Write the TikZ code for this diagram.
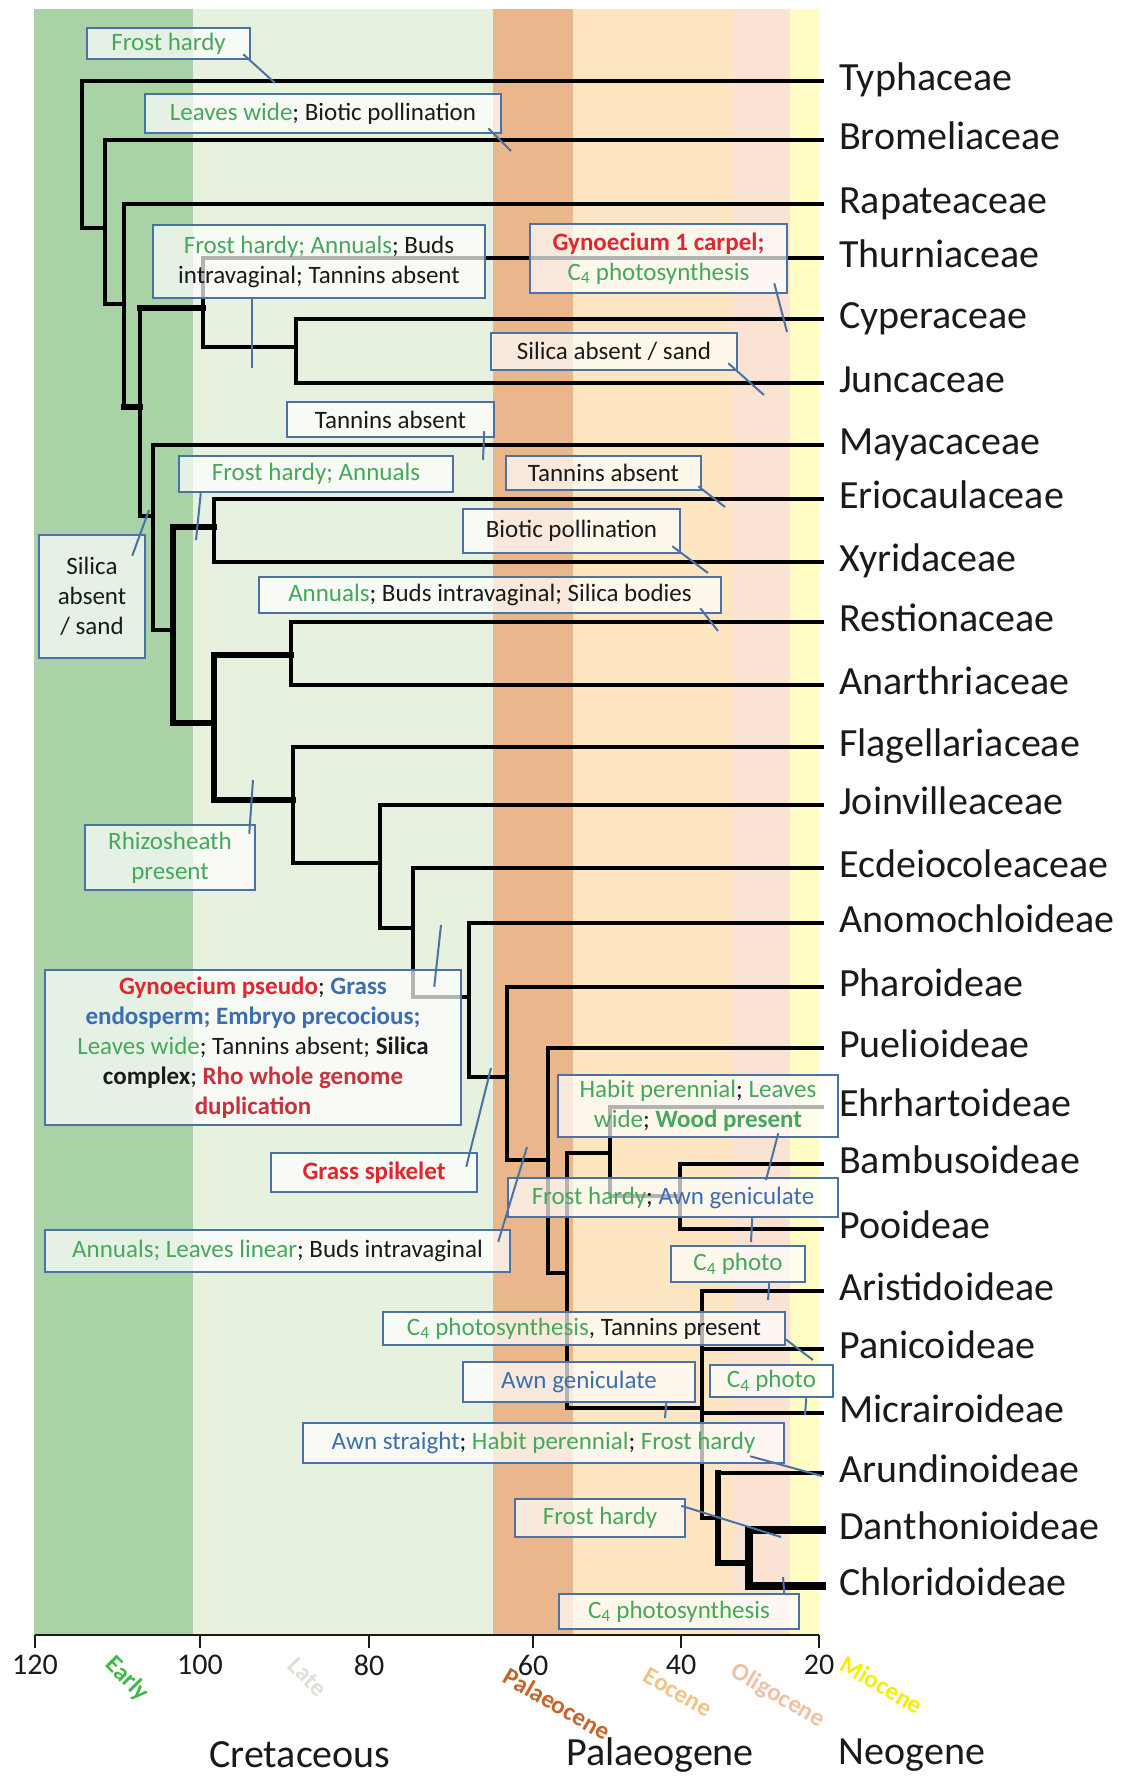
\documentclass[tikz,border=0pt]{standalone}
\usepackage{fontspec}
\setmainfont{Carlito}
\definecolor{early}{HTML}{A9D3A6}
\definecolor{late}{HTML}{E6F1DF}
\definecolor{palaeo}{HTML}{EAB68C}
\definecolor{eocene}{HTML}{FDE6C1}
\definecolor{oligo}{HTML}{FBE3D4}
\definecolor{mio}{HTML}{FFFCC4}
\definecolor{boxblue}{HTML}{4A72A4}
\definecolor{tgreen}{HTML}{45A85A}
\definecolor{tblue}{HTML}{3C6EB0}
\definecolor{tred}{HTML}{E0262E}
\definecolor{dred}{HTML}{C8323C}
\definecolor{ink}{HTML}{1A1A1A}
\definecolor{earlytext}{HTML}{42B649}
\definecolor{latetext}{HTML}{DCE2D8}
\definecolor{palaeotext}{HTML}{C8642A}
\definecolor{eocenetext}{HTML}{F3C386}
\definecolor{oligotext}{HTML}{EFC1A6}
\definecolor{miotext}{HTML}{F2EF00}
\newcommand{\cgreen}[1]{\textcolor{tgreen}{#1}}
\newcommand{\cblue}[1]{\textcolor{tblue}{#1}}
\newcommand{\cred}[1]{\textcolor{tred}{#1}}
\newcommand{\cdred}[1]{\textcolor{dred}{#1}}
\newcommand{\cfour}{C\textsubscript{4}}
\tikzset{
	branch/.style={line width=4.5pt,line cap=rect},
	thickbranch/.style={line width=6.5pt,line cap=rect},
	heavybranch/.style={line width=8.5pt,line cap=rect},
	taxon/.style={anchor=west,inner xsep=17pt,inner ysep=0pt,text height=26pt,text depth=8pt,text=ink,font=\fontsize{40}{48}\selectfont},
	note/.style={draw=boxblue,line width=2.5pt,fill=white,fill opacity=0.7,text opacity=1,inner sep=2pt,align=center,text=ink,font=\fontsize{25}{30}\selectfont},
	leader/.style={draw=boxblue,line width=2pt},
	epoch/.style={font=\bfseries\fontsize{25}{30}\selectfont},
	period/.style={text=ink,font=\fontsize{40}{48}\selectfont},
	ticklabel/.style={text=ink,font=\fontsize{30}{36}\selectfont}
}
\begin{document}
\begin{tikzpicture}[x=1pt,y=-1pt]
		\useasboundingbox (0,0) rectangle (1129,1777);
		\fill[early] (34,9) rectangle (193,1635);
		\fill[late] (193,9) rectangle (493,1635);
		\fill[palaeo] (493,9) rectangle (573,1635);
		\fill[eocene] (573,9) rectangle (733,1635);
		\fill[oligo] (733,9) rectangle (790,1635);
		\fill[mio] (790,9) rectangle (819,1635);
		\draw[line width=2.5pt,ink] (35,1635) -- (819,1635);
		\foreach \x/\lab in {35/120,200/100,369/80,533/60,681/40,819/20}{
			\draw[line width=2pt,ink] (\x,1635) -- (\x,1648);
			\node[ticklabel] (tick\lab) at (\x,1665) {\lab};
		}
		\node[epoch,text=earlytext,rotate=-45] (early) at (127,1679) {Early};
		\node[epoch,text=latetext,rotate=-45] (late) at (308,1677) {Late};
		\node[epoch,text=palaeotext,rotate=-30] (palaeocene) at (557,1704) {Palaeocene};
		\node[epoch,text=eocenetext,rotate=-30] (eocene) at (678,1692) {Eocene};
		\node[epoch,text=oligotext,rotate=-30] (oligocene) at (778,1696) {Oligocene};
		\node[epoch,text=miotext,rotate=-30] (miocene) at (882,1685) {Miocene};
		\node[period] (cretaceous) at (300,1755) {Cretaceous};
		\node[period] (palaeogene) at (660,1755) {Palaeogene};
		\node[period] (neogene) at (912,1755) {Neogene};
		\foreach \name/\ty in {Typhaceae/81,Bromeliaceae/140,Rapateaceae/204,Thurniaceae/258,Cyperaceae/319,Juncaceae/383,Mayacaceae/445,Eriocaulaceae/499,Xyridaceae/562,Restionaceae/622,Anarthriaceae/685,Flagellariaceae/747,Joinvilleaceae/805,Ecdeiocoleaceae/868,Anomochloideae/923,Pharoideae/987,Puelioideae/1048,Ehrhartoideae/1107,Bambusoideae/1164,Pooideae/1229,Aristidoideae/1291,Panicoideae/1349,Micrairoideae/1413,Arundinoideae/1473,Danthonioideae/1530,Chloridoideae/1586}
			\node[taxon] (\name) at (822,\ty) {\name};
		\foreach \n/\x/\y in {A/82/155,B/105/228,C/124/304,D/140/407,E/203/308,F/296/347,G/153/516,H/173/630,I/214/527,J/214/723,K/291/655,L/293/800,M/380/863,N/413/928,O/469/997,P/507/1077,Q/548/1160,R/610/1153,S/567/1273,W/680/1196,T/702/1408,U/718/1518,V/749/1563}
			\coordinate (n\n) at (\x,\y);
		\draw[branch] (Typhaceae.west) -| (nA) |- (nB);
		\draw[branch] (Bromeliaceae.west) -| (nB) |- (nC);
		\draw[branch] (Rapateaceae.west) -| (nC) |- (nD);
		\draw[thickbranch] (nC |- nD) -- (nD);
		\draw[branch] (nE) -| (nD) |- (nG);
		\draw[thickbranch] (nE) -- (nD |- nE);
		\draw[branch] (Thurniaceae.west) -| (nE) |- (nF);
		\draw[branch] (Cyperaceae.west) -| (nF) |- (Juncaceae.west);
		\draw[branch] (Mayacaceae.west) -| (nG) |- (nH);
		\draw[thickbranch] (nI) -| (nH) |- (nJ);
		\draw[branch] (Eriocaulaceae.west) -| (nI) |- (Xyridaceae.west);
		\draw[thickbranch] (nK) -| (nJ) |- (nL);
		\draw[branch] (Restionaceae.west) -| (nK) |- (Anarthriaceae.west);
		\draw[branch] (Flagellariaceae.west) -| (nL) |- (nM);
		\draw[branch] (Joinvilleaceae.west) -| (nM) |- (nN);
		\draw[branch] (Ecdeiocoleaceae.west) -| (nN) |- (nO);
		\draw[branch] (Anomochloideae.west) -| (nO) |- (nP);
		\draw[branch] (Pharoideae.west) -| (nP) |- (nQ);
		\draw[branch] (Puelioideae.west) -| (nQ) |- (nS);
		\draw[branch] (nR) -| (nS) |- (nT);
		\draw[branch] (Ehrhartoideae.west) -| (nR) |- (nW);
		\draw[branch] (Bambusoideae.west) -| (nW) |- (Pooideae.west);
		\draw[branch] (Aristidoideae.west) -| (nT) |- (nU);
		\draw[branch] (nT) |- (Panicoideae.west) (nT) |- (Micrairoideae.west);
		\draw[branch] (Arundinoideae.west) -- (nU |- Arundinoideae.west);
		\draw[thickbranch] (nU |- Arundinoideae.west) -- (nU) |- (nV);
		\draw[heavybranch] (Danthonioideae.west) -| (nV) |- (Chloridoideae.west);
		\node[note,minimum width=163pt,minimum height=31pt] (fh1) at (168.5,43.5) {\cgreen{Frost hardy}};
		\node[note,minimum width=356pt,minimum height=39pt] (lw) at (323,113.5) {\cgreen{Leaves wide}; Biotic pollination};
		\node[note,minimum width=332pt,minimum height=73pt] (fhab) at (319,261.5) {\cgreen{Frost hardy; Annuals}; Buds\\intravaginal; Tannins absent};
		\node[note,minimum width=257pt,minimum height=69pt] (gyn) at (658.5,258.5) {\textbf{\cred{Gynoecium 1 carpel;}}\\\cgreen{\cfour{} photosynthesis}};
		\node[note,minimum width=246pt,minimum height=37pt] (sas) at (614,351.5) {Silica absent / sand};
		\node[note,minimum width=207pt,minimum height=35pt] (ta1) at (390.5,419.5) {Tannins absent};
		\node[note,minimum width=274pt,minimum height=36pt] (fha) at (316,474) {\cgreen{Frost hardy; Annuals}};
		\node[note,minimum width=195pt,minimum height=34pt] (ta2) at (603.5,473) {Tannins absent};
		\node[note,minimum width=217pt,minimum height=44pt] (bp) at (571.5,531) {Biotic pollination};
		\node[note,minimum width=462pt,minimum height=36pt] (abs) at (490,595) {\cgreen{Annuals}; Buds intravaginal; Silica bodies};
		\node[note,minimum width=106pt,minimum height=123pt] (sas2) at (92,596.5) {Silica\\absent\\/ sand};
		\node[note,minimum width=170pt,minimum height=65pt] (rhz) at (170,857.5) {\cgreen{Rhizosheath}\\\cgreen{present}};
		\node[note,minimum width=416pt,minimum height=155pt] (gp) at (253,1047.5) {\textbf{\cred{Gynoecium pseudo}}; \textbf{\cblue{Grass}}\\\textbf{\cblue{endosperm; Embryo precocious;}}\\\cgreen{Leaves wide}; Tannins absent; \textbf{Silica}\\\textbf{complex}; \textbf{\cdred{Rho whole genome}}\\\textbf{\cdred{duplication}}};
		\node[note,minimum width=206pt,minimum height=39pt] (gs) at (374,1172.5) {\textbf{\cred{Grass spikelet}}};
		\node[note,minimum width=465pt,minimum height=42pt] (alb) at (277.5,1251) {\cgreen{Annuals; Leaves linear}; Buds intravaginal};
		\node[note,minimum width=280pt,minimum height=62pt] (hpw) at (698,1106) {\cgreen{Habit perennial}; \cgreen{Leaves}\\\cgreen{wide}; \textbf{\cgreen{Wood present}}};
		\node[note,minimum width=330pt,minimum height=39pt] (fhag) at (673,1197.5) {\cgreen{Frost hardy}; \cblue{Awn geniculate}};
		\node[note,minimum width=134pt,minimum height=36pt] (c4a) at (738,1264) {\cgreen{\cfour{} photo}};
		\node[note,minimum width=402pt,minimum height=33pt] (c4t) at (584,1328.5) {\cgreen{\cfour{} photosynthesis}, Tannins present};
		\node[note,minimum width=232pt,minimum height=40pt] (ag) at (579,1382) {\cblue{Awn geniculate}};
		\node[note,minimum width=123pt,minimum height=32pt] (c4b) at (771.5,1381) {\cgreen{\cfour{} photo}};
		\node[note,minimum width=481pt,minimum height=40pt] (ash) at (543.5,1443) {\cblue{Awn straight}; \cgreen{Habit perennial}; \cgreen{Frost hardy}};
		\node[note,minimum width=170pt,minimum height=38pt] (fh2) at (600,1518) {\cgreen{Frost hardy}};
		\node[note,minimum width=240pt,minimum height=35pt] (c4p) at (679,1611.5) {\cgreen{\cfour{} photosynthesis}};
		\coordinate (fh1-end) at (275,83);
		\coordinate (lw-end) at (511,151);
		\coordinate (fhab-end) at (252,368);
		\coordinate (gyn-end) at (787,332);
		\coordinate (sas-end) at (764,395);
		\coordinate (ta1-end) at (483,460);
		\coordinate (fha-end) at (196,540);
		\coordinate (ta2-end) at (725,507);
		\coordinate (bp-end) at (708,573);
		\coordinate (abs-end) at (718,631);
		\coordinate (sas2-end) at (149,510);
		\coordinate (rhz-end) at (253,780);
		\coordinate (gp-end) at (441,925);
		\coordinate (gs-end) at (491,1068);
		\coordinate (alb-end) at (527,1147);
		\coordinate (hpw-end) at (766,1180);
		\coordinate (fhag-end) at (751,1242);
		\coordinate (c4a-end) at (768,1300);
		\coordinate (c4t-end) at (813,1360);
		\coordinate (ag-end) at (665,1418);
		\coordinate (c4b-end) at (805,1415);
		\coordinate (ash-end) at (822,1476);
		\coordinate (fh2-end) at (781,1537);
		\coordinate (c4p-end) at (783,1577);
		\draw[leader] ([shift={(-8,-6)}]fh1.south east) -- (fh1-end);
		\draw[leader] ([shift={(-14,-6)}]lw.south east) -- (lw-end);
		\draw[leader] ([shift={(-67,0)}]fhab.south) -- (fhab-end);
		\draw[leader] ([shift={(-14,-11)}]gyn.south east) -- (gyn-end);
		\draw[leader] ([shift={(-10,-8)}]sas.south east) -- (sas-end);
		\draw[leader] ([shift={(-11,-7)}]ta1.south east) -- (ta1-end);
		\draw[leader] ([shift={(23,0)}]fha.south west) -- (fha-end);
		\draw[leader] ([shift={(-4,-5)}]ta2.south east) -- (ta2-end);
		\draw[leader] ([shift={(-9,-8)}]bp.south east) -- (bp-end);
		\draw[leader] ([shift={(-22,-6)}]abs.south east) -- (abs-end);
		\draw[leader] ([shift={(-14,22)}]sas2.north east) -- (sas2-end);
		\draw[leader] ([shift={(-7,10)}]rhz.north east) -- (rhz-end);
		\draw[leader] ([shift={(-28,18)}]gp.north east) -- (gp-end);
		\draw[leader] ([shift={(-12,15)}]gs.north east) -- (gs-end);
		\draw[leader] ([shift={(-13,13)}]alb.north east) -- (alb-end);
		\draw[leader] ([shift={(-61,-5)}]hpw.south east) -- (hpw-end);
		\draw[leader] ([shift={(-87,0)}]fhag.south east) -- (fhag-end);
		\draw[leader] ([shift={(-37,0)}]c4a.south east) -- (c4a-end);
		\draw[leader] ([shift={(-2,-8)}]c4t.south east) -- (c4t-end);
		\draw[leader] ([shift={(-30,0)}]ag.south east) -- (ag-end);
		\draw[leader] ([shift={(-28,0)}]c4b.south east) -- (c4b-end);
		\draw[leader] ([shift={(-35,-8)}]ash.south east) -- (ash-end);
		\draw[leader] ([shift={(-5,8)}]fh2.north east) -- (fh2-end);
		\draw[leader] ([shift={(-16,0)}]c4p.north east) -- (c4p-end);
\end{tikzpicture}
\end{document}
